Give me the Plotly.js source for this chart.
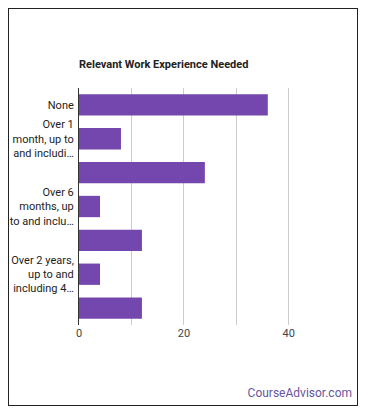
<!DOCTYPE html>
<html>
<head>
<meta charset="utf-8">
<script src="https://cdn.plot.ly/plotly-3.0.1.min.js"></script>
<style>
html,body{margin:0;padding:0;background:#fff;}
#frame{position:absolute;left:8px;top:8px;width:350px;height:398px;border:1px solid #222;box-sizing:border-box;}
#chart{position:absolute;left:0;top:0;width:370px;height:417px;}
#brand{position:absolute;right:18px;top:386px;font-family:Roboto,Arial,sans-serif;font-size:12px;line-height:14px;color:#6a559c;}
</style>
</head>
<body>
<div id="frame"></div>
<div id="chart"></div>
<div id="brand">CourseAdvisor.com</div>
<script>
const categories = [
  "None",
  "Over 1 month, up to and including 3 months",
  "Over 3 months, up to and including 6 months",
  "Over 6 months, up to and including 1 year",
  "Over 1 year, up to and including 2 years",
  "Over 2 years, up to and including 4 years",
  "Over 4 years, up to and including 6 years"
];
const values = [36, 8, 24, 4, 12, 4, 12];
const tickCategories = [categories[0], categories[1], categories[3], categories[5]];
const tickLabels = ["None", "Over 1<br>month, up to<br>and includi…", "Over 6<br>months, up<br>to and inclu…", "Over 2 years,<br>up to and<br>including 4…"];
const xTicks = [0, 20, 40];

const trace = {
  type: 'bar',
  orientation: 'h',
  y: categories,
  x: values,
  marker: {color: '#7447ae'},
  width: 0.63,
  hoverinfo: 'none'
};
const layout = {
  width: 370, height: 417,
  margin: {l: 79, r: 55, t: 88, b: 92},
  paper_bgcolor: 'rgba(0,0,0,0)',
  plot_bgcolor: 'rgba(0,0,0,0)',
  font: {family: 'Roboto, Arial, sans-serif', size: 11, color: '#222'},
  title: {text: '<b>Relevant Work Experience Needed</b>', x: 79/370, xref: 'container', xanchor: 'left', y: 1 - 64/417, yanchor: 'middle', font: {size: 11, color: '#222'}},
  showlegend: false,
  xaxis: {
    range: [0, 45], tickvals: xTicks, ticktext: xTicks.map(String),
    showgrid: true, gridcolor: '#cccccc', gridwidth: 1,
    minor: {dtick: 10, showgrid: true, gridcolor: '#cccccc', gridwidth: 1},
    zeroline: false, showline: false, ticks: '', fixedrange: true,
    tickfont: {size: 11, color: '#444'}
  },
  yaxis: {
    type: 'category', autorange: false, range: [6.5, -0.5],
    tickvals: tickCategories, ticktext: tickLabels,
    showgrid: false, zeroline: false, showline: true, linecolor: '#333', linewidth: 1,
    ticks: '', ticklabelstandoff: 2, fixedrange: true,
    tickfont: {size: 11, color: '#222'}
  },
  bargap: 0.37
};
Plotly.newPlot('chart', [trace], layout, {displayModeBar: false, staticPlot: true});
</script>
</body>
</html>
